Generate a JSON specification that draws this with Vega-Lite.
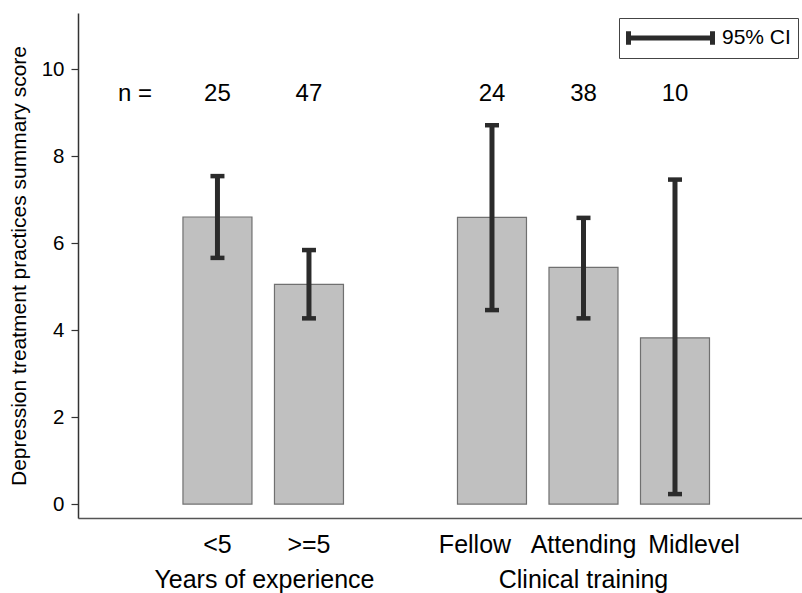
{
  "$schema": "https://vega.github.io/schema/vega-lite/v6.json",
  "width": 724,
  "height": 505,
  "autosize": "none",
  "padding": {"left": 78, "top": 13, "right": 0, "bottom": 75},
  "background": "white",
  "config": {
    "view": {"stroke": null},
    "font": "Liberation Sans",
    "text": {"font": "Liberation Sans"}
  },
  "datasets": {
    "bars": [
      {"group": "Years of experience", "category": "<5", "mean": 6.60, "lo": 5.66, "hi": 7.54, "n": "25"},
      {"group": "Years of experience", "category": ">=5", "mean": 5.05, "lo": 4.27, "hi": 5.84, "n": "47"},
      {"group": "Clinical training", "category": "Fellow", "mean": 6.59, "lo": 4.46, "hi": 8.71, "n": "24"},
      {"group": "Clinical training", "category": "Attending", "mean": 5.44, "lo": 4.27, "hi": 6.58, "n": "38"},
      {"group": "Clinical training", "category": "Midlevel", "mean": 3.82, "lo": 0.23, "hi": 7.46, "n": "10"}
    ]
  },
  "encoding": {
    "x": {
      "field": "category",
      "type": "nominal",
      "sort": null,
      "scale": {
        "domain": ["n =", "<5", ">=5", " ", "Fellow", "Attending", "Midlevel"],
        "paddingInner": 0.246,
        "paddingOuter": 0.579,
        "align": 0.127
      },
      "axis": {
        "title": null,
        "ticks": false,
        "labelAngle": 0,
        "labelFontSize": 25,
        "labelFont": "Liberation Sans",
        "labelColor": "black",
        "labelPadding": 14,
        "labelOverlap": false,
        "labelOffset": {
          "condition": [
            {"test": "datum.value == 'Fellow'", "value": -17},
            {"test": "datum.value == 'Midlevel'", "value": 19}
          ],
          "value": 0
        },
        "domainColor": "#555555",
        "domainWidth": 1.5,
        "labelExpr": "datum.value == 'n =' || datum.value == ' ' ? '' : datum.value"
      }
    }
  },
  "layer": [
    {
      "data": {"name": "bars"},
      "mark": {"type": "bar", "fill": "#c0c0c0", "stroke": "#707070", "strokeWidth": 1.2},
      "encoding": {
        "y": {
          "field": "mean",
          "type": "quantitative",
          "scale": {"domain": [-0.32, 11.29], "nice": false, "zero": false},
          "axis": {
            "title": "Depression treatment practices summary score",
            "titleFontSize": 21,
            "titleFont": "Liberation Sans",
            "titleFontWeight": "normal",
            "titleColor": "black",
            "titlePadding": 12,
            "values": [0, 2, 4, 6, 8, 10],
            "grid": false,
            "tickSize": 7,
            "tickColor": "#333333",
            "tickWidth": 1.2,
            "domainColor": "#333333",
            "domainWidth": 1.5,
            "labelFontSize": 20.5,
            "labelFont": "Liberation Sans",
            "labelColor": "black",
            "labelPadding": 7
          }
        },
        "y2": {"datum": 0}
      }
    },
    {
      "data": {"name": "bars"},
      "mark": {"type": "rule", "strokeWidth": 5},
      "encoding": {
        "y": {"field": "lo", "type": "quantitative"},
        "y2": {"field": "hi"},
        "stroke": {
          "datum": "95% CI",
          "type": "nominal",
          "scale": {"range": ["#2b2b2b"]},
          "legend": {
            "title": null,
            "orient": "top-right",
            "offset": 4.5,
            "padding": 7,
            "labelOffset": 7,
            "clipHeight": 26,
            "labelFontSize": 21,
            "labelFont": "Liberation Sans",
            "labelColor": "black",
            "strokeColor": "#444444",
            "fillColor": "white",
            "symbolType": "M-1,-0.16L-1,0.16M-1,0L1,0M1,-0.16L1,0.16",
            "symbolSize": 7056,
            "symbolStrokeWidth": 5
          }
        }
      }
    },
    {
      "data": {"name": "bars"},
      "mark": {"type": "tick", "color": "#2b2b2b", "size": 14, "thickness": 4.5, "opacity": 1},
      "encoding": {"y": {"field": "lo", "type": "quantitative"}}
    },
    {
      "data": {"name": "bars"},
      "mark": {"type": "tick", "color": "#2b2b2b", "size": 14, "thickness": 4.5, "opacity": 1},
      "encoding": {"y": {"field": "hi", "type": "quantitative"}}
    },
    {
      "data": {"name": "bars"},
      "mark": {"type": "text", "fontSize": 24, "baseline": "alphabetic", "color": "black"},
      "encoding": {
        "y": {"datum": 9.26},
        "text": {"field": "n"}
      }
    },
    {
      "data": {"values": [{"category": "n =", "label": "n ="}]},
      "mark": {"type": "text", "fontSize": 24, "baseline": "alphabetic", "color": "black", "dx": 9},
      "encoding": {
        "y": {"datum": 9.26},
        "text": {"field": "label"}
      }
    },
    {
      "data": {"values": [{"category": "<5", "label": "Years of experience"}]},
      "mark": {"type": "text", "fontSize": 25, "baseline": "alphabetic", "color": "black", "dx": 47},
      "encoding": {
        "y": {"datum": -1.93},
        "text": {"field": "label"}
      }
    },
    {
      "data": {"values": [{"category": "Attending", "label": "Clinical training"}]},
      "mark": {"type": "text", "fontSize": 25, "baseline": "alphabetic", "color": "black"},
      "encoding": {
        "y": {"datum": -1.93},
        "text": {"field": "label"}
      }
    }
  ]
}
